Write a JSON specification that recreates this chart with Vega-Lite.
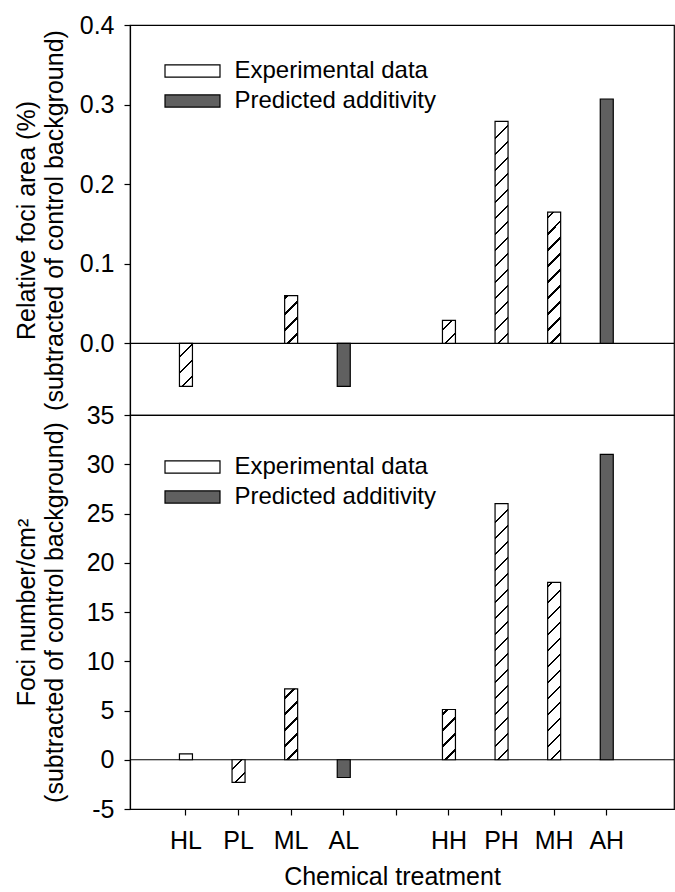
{
  "$schema": "https://vega.github.io/schema/vega-lite/v6.json",
  "padding": {"left": 13, "top": 12, "right": 0, "bottom": 0},
  "background": "white",
  "bounds": "flush",
  "config": {
    "font": "Liberation Sans",
    "view": {"stroke": "black", "strokeWidth": 1.2},
    "concat": {"spacing": 0},
    "axis": {
      "labelFont": "Liberation Sans", "labelFontSize": 25, "labelColor": "black",
      "titleFont": "Liberation Sans", "titleFontSize": 25, "titleFontWeight": "normal", "titleColor": "black",
      "domainColor": "black", "tickColor": "black", "domainWidth": 1.2, "tickWidth": 1.2, "grid": false,
      "tickSize": 6, "labelPadding": 10
    },
    "legend": {
      "labelFont": "Liberation Sans", "labelFontSize": 24, "labelColor": "black", "labelLimit": 400,
      "symbolType": "M-2,-0.44H2V0.44H-2Z", "symbolSize": 756,
      "symbolStrokeColor": "black", "symbolStrokeWidth": 1.2, "labelOffset": 27.5,
      "rowPadding": 3, "symbolOpacity": 1
    }
  },
  "datasets": {
    "area": [
      {"cat": "HL", "type": "Experimental data", "value": -0.054},
      {"cat": "ML", "type": "Experimental data", "value": 0.06},
      {"cat": "AL", "type": "Predicted additivity", "value": -0.054},
      {"cat": "HH", "type": "Experimental data", "value": 0.029},
      {"cat": "PH", "type": "Experimental data", "value": 0.279},
      {"cat": "MH", "type": "Experimental data", "value": 0.165},
      {"cat": "AH", "type": "Predicted additivity", "value": 0.307}
    ],
    "number": [
      {"cat": "HL", "type": "Experimental data", "value": 0.6},
      {"cat": "PL", "type": "Experimental data", "value": -2.3},
      {"cat": "ML", "type": "Experimental data", "value": 7.2},
      {"cat": "AL", "type": "Predicted additivity", "value": -1.8},
      {"cat": "HH", "type": "Experimental data", "value": 5.1},
      {"cat": "PH", "type": "Experimental data", "value": 26},
      {"cat": "MH", "type": "Experimental data", "value": 18},
      {"cat": "AH", "type": "Predicted additivity", "value": 31}
    ]
  },
  "vconcat": [
    {
      "width": 544, "height": 390,
      "layer": [
        {
          "data": {"values": [{}]},
          "mark": {"type": "rule", "color": "black", "strokeWidth": 1.2},
          "encoding": {"y": {"datum": 0, "type": "quantitative"}}
        },
        {
          "data": {"name": "area"},
          "mark": {"type": "bar", "width": 13, "stroke": "black", "strokeWidth": 1.2},
          "encoding": {
            "x": {"field": "cat", "type": "nominal", "sort": null,
              "scale": {"domain": ["HL", "PL", "ML", "AL", "gap", "HH", "PH", "MH", "AH"], "paddingInner": 0, "paddingOuter": 0.671, "align": 0.42},
              "axis": null},
            "y": {"field": "value", "type": "quantitative",
              "scale": {"domain": [-0.09, 0.4], "nice": false, "zero": false},
              "axis": {"values": [0, 0.1, 0.2, 0.3, 0.4], "format": ".1f",
                "title": ["Relative foci area (%)", "(subtracted of control background)"],
                "titleX": -104, "titleY": 195, "titleAngle": -90, "titleAlign": "center", "titleBaseline": "middle", "titleLineHeight": 28}},
            "fill": {
              "condition": [
                {"test": "datum.cat === 'HL'", "value": {"gradient": "linear", "x1": 1, "y1": 1, "x2": 0.6393, "y2": -0.1933, "stops": [
                  {"offset": 0, "color": "white"},
                  {"offset": 0.1607, "color": "white"}, {"offset": 0.1607, "color": "black"}, {"offset": 0.2036, "color": "black"}, {"offset": 0.2036, "color": "white"},
                  {"offset": 0.4464, "color": "white"}, {"offset": 0.4464, "color": "black"}, {"offset": 0.4893, "color": "black"}, {"offset": 0.4893, "color": "white"},
                  {"offset": 0.7321, "color": "white"}, {"offset": 0.7321, "color": "black"}, {"offset": 0.775, "color": "black"}, {"offset": 0.775, "color": "white"},
                  {"offset": 1, "color": "white"}]}},
                {"test": "datum.cat === 'ML'", "value": {"gradient": "linear", "x1": 1, "y1": 1, "x2": 0.6779, "y2": -0.1844, "stops": [
                  {"offset": 0, "color": "white"},
                  {"offset": 0.148, "color": "white"}, {"offset": 0.148, "color": "black"}, {"offset": 0.1875, "color": "black"}, {"offset": 0.1875, "color": "white"},
                  {"offset": 0.4112, "color": "white"}, {"offset": 0.4112, "color": "black"}, {"offset": 0.4507, "color": "black"}, {"offset": 0.4507, "color": "white"},
                  {"offset": 0.6743, "color": "white"}, {"offset": 0.6743, "color": "black"}, {"offset": 0.7138, "color": "black"}, {"offset": 0.7138, "color": "white"},
                  {"offset": 0.9375, "color": "white"}, {"offset": 0.9375, "color": "black"}, {"offset": 0.977, "color": "black"}, {"offset": 0.977, "color": "white"},
                  {"offset": 1, "color": "white"}]}},
                {"test": "datum.cat === 'HH'", "value": {"gradient": "linear", "x1": 1, "y1": 1, "x2": 0.332, "y2": -0.1869, "stops": [
                  {"offset": 0, "color": "white"},
                  {"offset": 0.2493, "color": "white"}, {"offset": 0.2493, "color": "black"}, {"offset": 0.3158, "color": "black"}, {"offset": 0.3158, "color": "white"},
                  {"offset": 0.6925, "color": "white"}, {"offset": 0.6925, "color": "black"}, {"offset": 0.759, "color": "black"}, {"offset": 0.759, "color": "white"},
                  {"offset": 1, "color": "white"}]}},
                {"test": "datum.cat === 'PH'", "value": {"gradient": "linear", "x1": 1, "y1": 1, "x2": 0.93825, "y2": -0.0549, "stops": [
                  {"offset": 0, "color": "white"},
                  {"offset": 0.03828, "color": "white"}, {"offset": 0.03828, "color": "black"}, {"offset": 0.04849, "color": "black"}, {"offset": 0.04849, "color": "white"},
                  {"offset": 0.10634, "color": "white"}, {"offset": 0.10634, "color": "black"}, {"offset": 0.11654, "color": "black"}, {"offset": 0.11654, "color": "white"},
                  {"offset": 0.17439, "color": "white"}, {"offset": 0.17439, "color": "black"}, {"offset": 0.1846, "color": "black"}, {"offset": 0.1846, "color": "white"},
                  {"offset": 0.24245, "color": "white"}, {"offset": 0.24245, "color": "black"}, {"offset": 0.25266, "color": "black"}, {"offset": 0.25266, "color": "white"},
                  {"offset": 0.31051, "color": "white"}, {"offset": 0.31051, "color": "black"}, {"offset": 0.32071, "color": "black"}, {"offset": 0.32071, "color": "white"},
                  {"offset": 0.37856, "color": "white"}, {"offset": 0.37856, "color": "black"}, {"offset": 0.38877, "color": "black"}, {"offset": 0.38877, "color": "white"},
                  {"offset": 0.44662, "color": "white"}, {"offset": 0.44662, "color": "black"}, {"offset": 0.45682, "color": "black"}, {"offset": 0.45682, "color": "white"},
                  {"offset": 0.51467, "color": "white"}, {"offset": 0.51467, "color": "black"}, {"offset": 0.52488, "color": "black"}, {"offset": 0.52488, "color": "white"},
                  {"offset": 0.58273, "color": "white"}, {"offset": 0.58273, "color": "black"}, {"offset": 0.59294, "color": "black"}, {"offset": 0.59294, "color": "white"},
                  {"offset": 0.65079, "color": "white"}, {"offset": 0.65079, "color": "black"}, {"offset": 0.66099, "color": "black"}, {"offset": 0.66099, "color": "white"},
                  {"offset": 0.71884, "color": "white"}, {"offset": 0.71884, "color": "black"}, {"offset": 0.72905, "color": "black"}, {"offset": 0.72905, "color": "white"},
                  {"offset": 0.7869, "color": "white"}, {"offset": 0.7869, "color": "black"}, {"offset": 0.79711, "color": "black"}, {"offset": 0.79711, "color": "white"},
                  {"offset": 0.85496, "color": "white"}, {"offset": 0.85496, "color": "black"}, {"offset": 0.86516, "color": "black"}, {"offset": 0.86516, "color": "white"},
                  {"offset": 0.92301, "color": "white"}, {"offset": 0.92301, "color": "black"}, {"offset": 0.93322, "color": "black"}, {"offset": 0.93322, "color": "white"},
                  {"offset": 1, "color": "white"}]}},
                {"test": "datum.cat === 'MH'", "value": {"gradient": "linear", "x1": 1, "y1": 1, "x2": 0.89224, "y2": -0.08834, "stops": [
                  {"offset": 0, "color": "white"},
                  {"offset": 0.06237, "color": "white"}, {"offset": 0.06237, "color": "black"}, {"offset": 0.079, "color": "black"}, {"offset": 0.079, "color": "white"},
                  {"offset": 0.17325, "color": "white"}, {"offset": 0.17325, "color": "black"}, {"offset": 0.18988, "color": "black"}, {"offset": 0.18988, "color": "white"},
                  {"offset": 0.28413, "color": "white"}, {"offset": 0.28413, "color": "black"}, {"offset": 0.30076, "color": "black"}, {"offset": 0.30076, "color": "white"},
                  {"offset": 0.39501, "color": "white"}, {"offset": 0.39501, "color": "black"}, {"offset": 0.41164, "color": "black"}, {"offset": 0.41164, "color": "white"},
                  {"offset": 0.50589, "color": "white"}, {"offset": 0.50589, "color": "black"}, {"offset": 0.52252, "color": "black"}, {"offset": 0.52252, "color": "white"},
                  {"offset": 0.61677, "color": "white"}, {"offset": 0.61677, "color": "black"}, {"offset": 0.6334, "color": "black"}, {"offset": 0.6334, "color": "white"},
                  {"offset": 0.72765, "color": "white"}, {"offset": 0.72765, "color": "black"}, {"offset": 0.74428, "color": "black"}, {"offset": 0.74428, "color": "white"},
                  {"offset": 0.83853, "color": "white"}, {"offset": 0.83853, "color": "black"}, {"offset": 0.85516, "color": "black"}, {"offset": 0.85516, "color": "white"},
                  {"offset": 0.94941, "color": "white"}, {"offset": 0.94941, "color": "black"}, {"offset": 0.96604, "color": "black"}, {"offset": 0.96604, "color": "white"},
                  {"offset": 1, "color": "white"}]}}
              ],
              "field": "type", "type": "nominal",
              "scale": {"domain": ["Experimental data", "Predicted additivity"], "range": ["white", "#606060"]},
              "legend": {"orient": "none", "legendX": 48, "legendY": 31.5, "title": null,
                "encode": {"symbols": {"update": {
                  "stroke": {"value": "black"}, "strokeWidth": {"value": 1.2}, "opacity": {"value": 1},
                  "fill": [
                  {"test": "datum.label === 'Experimental data'", "value": {"gradient": "linear", "x1": 1, "y1": 1, "x2": -0.1637, "y2": 0.744, "stops": [
                    {"offset": 0, "color": "white"},
                    {"offset": 0.149, "color": "white"}, {"offset": 0.149, "color": "black"}, {"offset": 0.1848, "color": "black"}, {"offset": 0.1848, "color": "white"},
                    {"offset": 0.3577, "color": "white"}, {"offset": 0.3577, "color": "black"}, {"offset": 0.3934, "color": "black"}, {"offset": 0.3934, "color": "white"},
                    {"offset": 0.5663, "color": "white"}, {"offset": 0.5663, "color": "black"}, {"offset": 0.602, "color": "black"}, {"offset": 0.602, "color": "white"},
                    {"offset": 0.775, "color": "white"}, {"offset": 0.775, "color": "black"}, {"offset": 0.8107, "color": "black"}, {"offset": 0.8107, "color": "white"},
                    {"offset": 1, "color": "white"}]}},
                  {"value": "#606060"}]}}}}
            }
          }
        }
      ]
    },
    {
      "width": 544, "height": 394,
      "layer": [
        {
          "data": {"values": [{}]},
          "mark": {"type": "rule", "color": "black", "strokeWidth": 1.2},
          "encoding": {"y": {"datum": 0, "type": "quantitative"}}
        },
        {
          "data": {"name": "number"},
          "mark": {"type": "bar", "width": 13, "stroke": "black", "strokeWidth": 1.2},
          "encoding": {
            "x": {"field": "cat", "type": "nominal", "sort": null,
              "scale": {"domain": ["HL", "PL", "ML", "AL", "gap", "HH", "PH", "MH", "AH"], "paddingInner": 0, "paddingOuter": 0.671, "align": 0.42},
              "axis": {"title": "Chemical treatment", "labelAngle": 0, "labelExpr": "datum.value === 'gap' ? '' : datum.value", "labelPadding": 13, "titlePadding": 11, "titleX": 262, "titleAlign": "center"}},
            "y": {"field": "value", "type": "quantitative",
              "scale": {"domain": [-5, 35], "nice": false, "zero": false},
              "axis": {"values": [-5, 0, 5, 10, 15, 20, 25, 30, 35], "labelExpr": "'' + datum.value",
                "title": ["Foci number/cm²", "(subtracted of control background)"],
                "titleX": -104, "titleY": 197, "titleAngle": -90, "titleAlign": "center", "titleBaseline": "middle", "titleLineHeight": 28}},
            "fill": {
              "condition": [
                {"test": "datum.cat === 'PL'", "value": {"gradient": "linear", "x1": 1, "y1": 1, "x2": 0.3218, "y2": -0.1843, "stops": [
                  {"offset": 0, "color": "white"},
                  {"offset": 0.2521, "color": "white"}, {"offset": 0.2521, "color": "black"}, {"offset": 0.3193, "color": "black"}, {"offset": 0.3193, "color": "white"},
                  {"offset": 0.7003, "color": "white"}, {"offset": 0.7003, "color": "black"}, {"offset": 0.7675, "color": "black"}, {"offset": 0.7675, "color": "white"},
                  {"offset": 1, "color": "white"}]}},
                {"test": "datum.cat === 'ML'", "value": {"gradient": "linear", "x1": 1, "y1": 1, "x2": 0.7901, "y2": -0.1449, "stops": [
                  {"offset": 0, "color": "white"},
                  {"offset": 0.10727, "color": "white"}, {"offset": 0.10727, "color": "black"}, {"offset": 0.13587, "color": "black"}, {"offset": 0.13587, "color": "white"},
                  {"offset": 0.29797, "color": "white"}, {"offset": 0.29797, "color": "black"}, {"offset": 0.32658, "color": "black"}, {"offset": 0.32658, "color": "white"},
                  {"offset": 0.48868, "color": "white"}, {"offset": 0.48868, "color": "black"}, {"offset": 0.51728, "color": "black"}, {"offset": 0.51728, "color": "white"},
                  {"offset": 0.67938, "color": "white"}, {"offset": 0.67938, "color": "black"}, {"offset": 0.70798, "color": "black"}, {"offset": 0.70798, "color": "white"},
                  {"offset": 0.87008, "color": "white"}, {"offset": 0.87008, "color": "black"}, {"offset": 0.89869, "color": "black"}, {"offset": 0.89869, "color": "white"},
                  {"offset": 1, "color": "white"}]}},
                {"test": "datum.cat === 'HH'", "value": {"gradient": "linear", "x1": 1, "y1": 1, "x2": 0.6945, "y2": -0.1798, "stops": [
                  {"offset": 0, "color": "white"},
                  {"offset": 0.14241, "color": "white"}, {"offset": 0.14241, "color": "black"}, {"offset": 0.18039, "color": "black"}, {"offset": 0.18039, "color": "white"},
                  {"offset": 0.39557, "color": "white"}, {"offset": 0.39557, "color": "black"}, {"offset": 0.43355, "color": "black"}, {"offset": 0.43355, "color": "white"},
                  {"offset": 0.64873, "color": "white"}, {"offset": 0.64873, "color": "black"}, {"offset": 0.68672, "color": "black"}, {"offset": 0.68672, "color": "white"},
                  {"offset": 0.9019, "color": "white"}, {"offset": 0.9019, "color": "black"}, {"offset": 0.93988, "color": "black"}, {"offset": 0.93988, "color": "white"},
                  {"offset": 1, "color": "white"}]}},
                {"test": "datum.cat === 'PH'", "value": {"gradient": "linear", "x1": 1, "y1": 1, "x2": 0.9468, "y2": -0.04806, "stops": [
                  {"offset": 0, "color": "white"},
                  {"offset": 0.03344, "color": "white"}, {"offset": 0.03344, "color": "black"}, {"offset": 0.04236, "color": "black"}, {"offset": 0.04236, "color": "white"},
                  {"offset": 0.0929, "color": "white"}, {"offset": 0.0929, "color": "black"}, {"offset": 0.10182, "color": "black"}, {"offset": 0.10182, "color": "white"},
                  {"offset": 0.15236, "color": "white"}, {"offset": 0.15236, "color": "black"}, {"offset": 0.16128, "color": "black"}, {"offset": 0.16128, "color": "white"},
                  {"offset": 0.21182, "color": "white"}, {"offset": 0.21182, "color": "black"}, {"offset": 0.22074, "color": "black"}, {"offset": 0.22074, "color": "white"},
                  {"offset": 0.27128, "color": "white"}, {"offset": 0.27128, "color": "black"}, {"offset": 0.2802, "color": "black"}, {"offset": 0.2802, "color": "white"},
                  {"offset": 0.33073, "color": "white"}, {"offset": 0.33073, "color": "black"}, {"offset": 0.33965, "color": "black"}, {"offset": 0.33965, "color": "white"},
                  {"offset": 0.39019, "color": "white"}, {"offset": 0.39019, "color": "black"}, {"offset": 0.39911, "color": "black"}, {"offset": 0.39911, "color": "white"},
                  {"offset": 0.44965, "color": "white"}, {"offset": 0.44965, "color": "black"}, {"offset": 0.45857, "color": "black"}, {"offset": 0.45857, "color": "white"},
                  {"offset": 0.50911, "color": "white"}, {"offset": 0.50911, "color": "black"}, {"offset": 0.51803, "color": "black"}, {"offset": 0.51803, "color": "white"},
                  {"offset": 0.56856, "color": "white"}, {"offset": 0.56856, "color": "black"}, {"offset": 0.57748, "color": "black"}, {"offset": 0.57748, "color": "white"},
                  {"offset": 0.62802, "color": "white"}, {"offset": 0.62802, "color": "black"}, {"offset": 0.63694, "color": "black"}, {"offset": 0.63694, "color": "white"},
                  {"offset": 0.68748, "color": "white"}, {"offset": 0.68748, "color": "black"}, {"offset": 0.6964, "color": "black"}, {"offset": 0.6964, "color": "white"},
                  {"offset": 0.74694, "color": "white"}, {"offset": 0.74694, "color": "black"}, {"offset": 0.75586, "color": "black"}, {"offset": 0.75586, "color": "white"},
                  {"offset": 0.80639, "color": "white"}, {"offset": 0.80639, "color": "black"}, {"offset": 0.81531, "color": "black"}, {"offset": 0.81531, "color": "white"},
                  {"offset": 0.86585, "color": "white"}, {"offset": 0.86585, "color": "black"}, {"offset": 0.87477, "color": "black"}, {"offset": 0.87477, "color": "white"},
                  {"offset": 0.92531, "color": "white"}, {"offset": 0.92531, "color": "black"}, {"offset": 0.93423, "color": "black"}, {"offset": 0.93423, "color": "white"},
                  {"offset": 1, "color": "white"}]}},
                {"test": "datum.cat === 'MH'", "value": {"gradient": "linear", "x1": 1, "y1": 1, "x2": 0.92172, "y2": -0.06758, "stops": [
                  {"offset": 0, "color": "white"},
                  {"offset": 0.04729, "color": "white"}, {"offset": 0.04729, "color": "black"}, {"offset": 0.0599, "color": "black"}, {"offset": 0.0599, "color": "white"},
                  {"offset": 0.13137, "color": "white"}, {"offset": 0.13137, "color": "black"}, {"offset": 0.14398, "color": "black"}, {"offset": 0.14398, "color": "white"},
                  {"offset": 0.21545, "color": "white"}, {"offset": 0.21545, "color": "black"}, {"offset": 0.22806, "color": "black"}, {"offset": 0.22806, "color": "white"},
                  {"offset": 0.29953, "color": "white"}, {"offset": 0.29953, "color": "black"}, {"offset": 0.31214, "color": "black"}, {"offset": 0.31214, "color": "white"},
                  {"offset": 0.38361, "color": "white"}, {"offset": 0.38361, "color": "black"}, {"offset": 0.39622, "color": "black"}, {"offset": 0.39622, "color": "white"},
                  {"offset": 0.46769, "color": "white"}, {"offset": 0.46769, "color": "black"}, {"offset": 0.48029, "color": "black"}, {"offset": 0.48029, "color": "white"},
                  {"offset": 0.55176, "color": "white"}, {"offset": 0.55176, "color": "black"}, {"offset": 0.56437, "color": "black"}, {"offset": 0.56437, "color": "white"},
                  {"offset": 0.63584, "color": "white"}, {"offset": 0.63584, "color": "black"}, {"offset": 0.64845, "color": "black"}, {"offset": 0.64845, "color": "white"},
                  {"offset": 0.71992, "color": "white"}, {"offset": 0.71992, "color": "black"}, {"offset": 0.73253, "color": "black"}, {"offset": 0.73253, "color": "white"},
                  {"offset": 0.804, "color": "white"}, {"offset": 0.804, "color": "black"}, {"offset": 0.81661, "color": "black"}, {"offset": 0.81661, "color": "white"},
                  {"offset": 0.88808, "color": "white"}, {"offset": 0.88808, "color": "black"}, {"offset": 0.90069, "color": "black"}, {"offset": 0.90069, "color": "white"},
                  {"offset": 0.97216, "color": "white"}, {"offset": 0.97216, "color": "black"}, {"offset": 0.98476, "color": "black"}, {"offset": 0.98476, "color": "white"},
                  {"offset": 1, "color": "white"}]}}
              ],
              "field": "type", "type": "nominal",
              "scale": {"domain": ["Experimental data", "Predicted additivity"], "range": ["white", "#606060"]},
              "legend": {"orient": "none", "legendX": 48, "legendY": 37.5, "title": null,
                "encode": {"symbols": {"update": {
                  "stroke": {"value": "black"}, "strokeWidth": {"value": 1.2}, "opacity": {"value": 1},
                  "fill": [
                  {"test": "datum.label === 'Experimental data'", "value": {"gradient": "linear", "x1": 1, "y1": 1, "x2": -0.1637, "y2": 0.744, "stops": [
                    {"offset": 0, "color": "white"},
                    {"offset": 0.149, "color": "white"}, {"offset": 0.149, "color": "black"}, {"offset": 0.1848, "color": "black"}, {"offset": 0.1848, "color": "white"},
                    {"offset": 0.3577, "color": "white"}, {"offset": 0.3577, "color": "black"}, {"offset": 0.3934, "color": "black"}, {"offset": 0.3934, "color": "white"},
                    {"offset": 0.5663, "color": "white"}, {"offset": 0.5663, "color": "black"}, {"offset": 0.602, "color": "black"}, {"offset": 0.602, "color": "white"},
                    {"offset": 0.775, "color": "white"}, {"offset": 0.775, "color": "black"}, {"offset": 0.8107, "color": "black"}, {"offset": 0.8107, "color": "white"},
                    {"offset": 1, "color": "white"}]}},
                  {"value": "#606060"}]}}}}
            }
          }
        }
      ]
    }
  ],
  "resolve": {"scale": {"fill": "independent"}, "legend": {"fill": "independent"}}
}
